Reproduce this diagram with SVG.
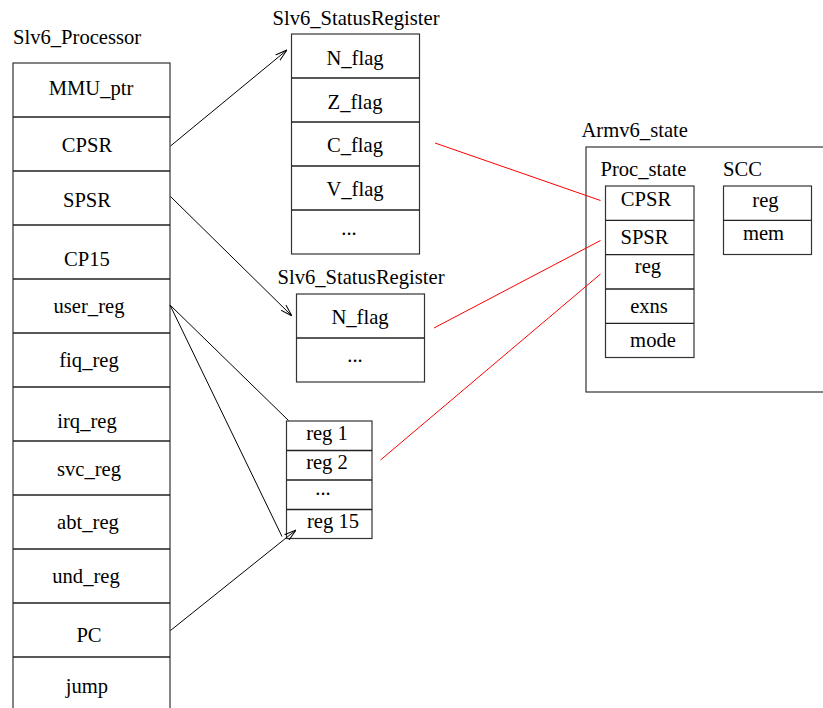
<svg xmlns="http://www.w3.org/2000/svg" width="823" height="708" viewBox="0 0 823 708">
<style>
text{font-family:"Liberation Serif","Times New Roman",serif;font-size:20.6px;fill:#000}
.m{text-anchor:middle}
.box{fill:#fff;stroke:#333;stroke-width:1.2}
.div{stroke:#222;stroke-width:1.3}
.blk{stroke:#000;stroke-width:1;fill:none}
.red{stroke:#f00;stroke-width:1;fill:none}
</style>
<defs>
<marker id="ah" viewBox="0 0 12 8" refX="12" refY="4" markerWidth="12" markerHeight="8" markerUnits="userSpaceOnUse" orient="auto">
<path d="M0,0.5 L12,4 L0,7.5" fill="none" stroke="#000" stroke-width="1"/>
</marker>
</defs>
<rect width="823" height="708" fill="#fff"/>

<g id="slv6_processor">
<text x="13" y="44">Slv6_Processor</text>
<rect class="box" x="13" y="63" width="157" height="660"/>
<path class="div" d="M13,117H170M13,171H170M13,225H170M13,279H170M13,333H170M13,387H170M13,441H170M13,495H170M13,549H170M13,603H170M13,657H170"/>
<text class="m" x="91" y="95">MMU_ptr</text>
<text class="m" x="87" y="152">CPSR</text>
<text class="m" x="87" y="207">SPSR</text>
<text class="m" x="87" y="266">CP15</text>
<text class="m" x="89" y="313">user_reg</text>
<text class="m" x="89" y="367">fiq_reg</text>
<text class="m" x="87" y="428">irq_reg</text>
<text class="m" x="89" y="476">svc_reg</text>
<text class="m" x="88" y="529">abt_reg</text>
<text class="m" x="86" y="583">und_reg</text>
<text class="m" x="89" y="642">PC</text>
<text class="m" x="87" y="693">jump</text>
</g>

<g id="status_register_1">
<text class="m" x="356" y="25">Slv6_StatusRegister</text>
<rect class="box" x="291.5" y="34" width="128" height="220"/>
<path class="div" d="M291.5,78H419.5M291.5,122H419.5M291.5,166H419.5M291.5,210H419.5"/>
<text class="m" x="355" y="65">N_flag</text>
<text class="m" x="355" y="109">Z_flag</text>
<text class="m" x="355" y="152">C_flag</text>
<text class="m" x="355" y="196">V_flag</text>
<text class="m" x="349" y="235">...</text>
</g>

<g id="status_register_2">
<text class="m" x="361" y="284">Slv6_StatusRegister</text>
<rect class="box" x="296.5" y="294" width="128" height="88"/>
<path class="div" d="M296.5,338H424.5"/>
<text class="m" x="360" y="324">N_flag</text>
<text class="m" x="355" y="362">...</text>
</g>

<g id="reg_array">
<rect class="box" x="286.5" y="421" width="85.5" height="117.5"/>
<path class="div" d="M286.5,450.5H372M286.5,480H372M286.5,509.5H372"/>
<text class="m" x="327" y="440">reg 1</text>
<text class="m" x="327" y="469">reg 2</text>
<text class="m" x="323" y="495">...</text>
<text class="m" x="333" y="528">reg 15</text>
</g>

<g id="armv6_state">
<text x="581.5" y="137">Armv6_state</text>
<rect class="box" x="586" y="147" width="260" height="245"/>
</g>

<g id="proc_state">
<text x="600.5" y="176">Proc_state</text>
<rect class="box" x="605.5" y="186" width="88.5" height="171.5"/>
<path class="div" d="M605.5,220.3H694M605.5,254.7H694M605.5,289H694M605.5,323.3H694"/>
<text class="m" x="646" y="206">CPSR</text>
<text class="m" x="644.5" y="244">SPSR</text>
<text class="m" x="648" y="273">reg</text>
<text class="m" x="649" y="313">exns</text>
<text class="m" x="653" y="347">mode</text>
</g>

<g id="scc">
<text x="723" y="176">SCC</text>
<rect class="box" x="723.5" y="186" width="88" height="68.5"/>
<path class="div" d="M723.5,220.3H811.5"/>
<text class="m" x="765.5" y="207">reg</text>
<text class="m" x="763.5" y="240">mem</text>
</g>

<g id="connectors">
<line class="blk" x1="170.5" y1="146" x2="287" y2="50" marker-end="url(#ah)"/>
<line class="blk" x1="170.5" y1="196.5" x2="292" y2="316" marker-end="url(#ah)"/>
<line class="blk" x1="170" y1="305" x2="288.5" y2="420.5"/>
<line class="blk" x1="170" y1="305" x2="282" y2="536.5"/>
<line class="blk" x1="170.5" y1="630.5" x2="296" y2="530" marker-end="url(#ah)"/>
<line class="red" x1="435" y1="143" x2="600.5" y2="200.5"/>
<line class="red" x1="434" y1="328" x2="600.5" y2="240.5"/>
<line class="red" x1="380.5" y1="460" x2="600.5" y2="274"/>
</g>
</svg>
